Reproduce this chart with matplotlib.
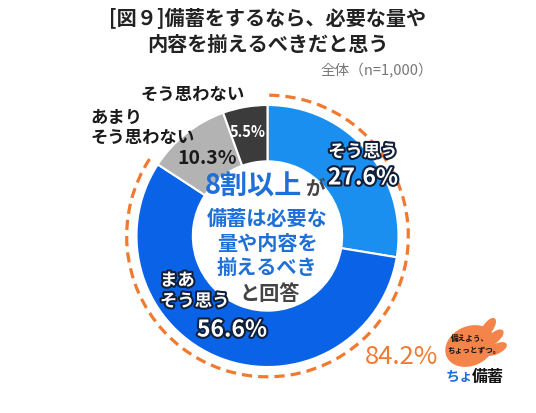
import numpy as np
import matplotlib
matplotlib.use('Agg')
import matplotlib.pyplot as plt
import matplotlib.patheffects as pe
from matplotlib.patches import Arc, Ellipse

plt.rcParams['font.family'] = ['Noto Sans CJK JP', 'DejaVu Sans']

# data
categories = ['そう思う', 'まあ\nそう思う', 'あまり\nそう思わない', 'そう思わない']
shares = [27.6, 56.6, 10.3, 5.5]
colors = ['#1a8ff0', '#0a63e6', '#b3b3b3', '#3b3b3b']
title = '[図９]備蓄をするなら、必要な量や\n内容を揃えるべきだと思う'
sample_note = '全体（n=1,000）'

W, H = 536, 413
fig = plt.figure(figsize=(W / 100, H / 100), dpi=100)
ax = fig.add_axes([0, 0, 1, 1])

cx, cy, r = 267.5, H - 236, 131
ax.pie(shares, colors=colors, startangle=90, counterclock=False,
       center=(cx, cy), radius=r, frame=True,
       wedgeprops=dict(width=r * 0.43, edgecolor='white', linewidth=1.5))
ax.set_xlim(0, W)
ax.set_ylim(0, H)
ax.set_aspect('equal')
ax.axis('off')

# dashed arc around the "agree" share
agree = shares[0] + shares[1]
ax.add_patch(Arc((cx, cy), 2 * r * 1.075, 2 * r * 1.075,
                 theta1=90 - agree / 100 * 360, theta2=90,
                 color='#f07a30', lw=2.3, linestyle=(0, (3.2, 1.9))))

def y(px):
    return H - px

glow = [pe.withStroke(linewidth=3, foreground='#10203a')]

# title and note
ax.text(W / 2, y(31), title, ha='center', va='center', fontsize=14.5,
        fontweight='bold', color='#222222', linespacing=1.3)
ax.text(433, y(71), sample_note, ha='right', va='center', fontsize=10.5,
        color='#777777')

# segment labels
ax.text(363, y(152), categories[0], ha='center', va='center', fontsize=12.5,
        fontweight='bold', color='white', path_effects=glow)
ax.text(363, y(178), f'{shares[0]}%', ha='center', va='center', fontsize=16.5,
        fontweight='bold', color='white', path_effects=glow)

ax.text(160, y(291), categories[1], ha='left', va='center', fontsize=12.5,
        fontweight='bold', color='white', path_effects=glow, linespacing=1.2)
ax.text(232, y(330), f'{shares[1]}%', ha='center', va='center', fontsize=16.5,
        fontweight='bold', color='white', path_effects=glow)

ax.text(90, y(128), categories[2], ha='left', va='center', fontsize=12.5,
        fontweight='bold', color='#1a1a1a', linespacing=1.2)
ax.text(207, y(158), f'{shares[2]}%', ha='center', va='center', fontsize=14,
        fontweight='bold', color='#1a1a1a')

ax.text(193, y(95), categories[3], ha='center', va='center', fontsize=12.5,
        fontweight='bold', color='#1a1a1a')
ax.text(248, y(132), f'{shares[3]}%', ha='center', va='center', fontsize=10.5,
        fontweight='bold', color='white')

# center message
blue = '#1f6fd8'
ax.text(302, y(187), '8割以上', ha='right', va='center', fontsize=19.5,
        fontweight='bold', color=blue)
ax.text(305, y(189), 'が', ha='left', va='center', fontsize=14,
        fontweight='bold', color='#444444')
ax.text(267, y(243), '備蓄は必要な\n量や内容を\n揃えるべき', ha='center',
        va='center', fontsize=14.5, fontweight='bold', color=blue,
        linespacing=1.2)
ax.text(270, y(293), 'と回答', ha='center', va='center', fontsize=14.5,
        fontweight='bold', color='#444444')

# total of agree
ax.text(402, y(357), f'{agree:.1f}%', ha='center', va='center', fontsize=18.5,
        color='#f07a30')

# logo (simplified hand)
orange = '#f4844a'
ax.add_patch(Ellipse((470, y(346)), 50, 38, angle=25, color=orange))
for fx, fy, ang in [(488, 328, 55), (494, 338, 40), (496, 349, 25)]:
    ax.add_patch(Ellipse((fx, y(fy)), 22, 9, angle=ang, color=orange))
ax.text(470, y(338), '備えよう、', ha='center', va='center', fontsize=5.5,
        fontweight='bold', color='#111111')
ax.text(474, y(350), 'ちょっとずつ。', ha='center', va='center', fontsize=5.5,
        fontweight='bold', color='#111111')
ax.text(459, y(377), 'ちょ', ha='center', va='center', fontsize=10,
        fontweight='bold', color='#1f6fd8')
ax.text(488, y(377), '備蓄', ha='center', va='center', fontsize=11.5,
        fontweight='bold', color='#111111')

fig.savefig('out.png', dpi=100)
